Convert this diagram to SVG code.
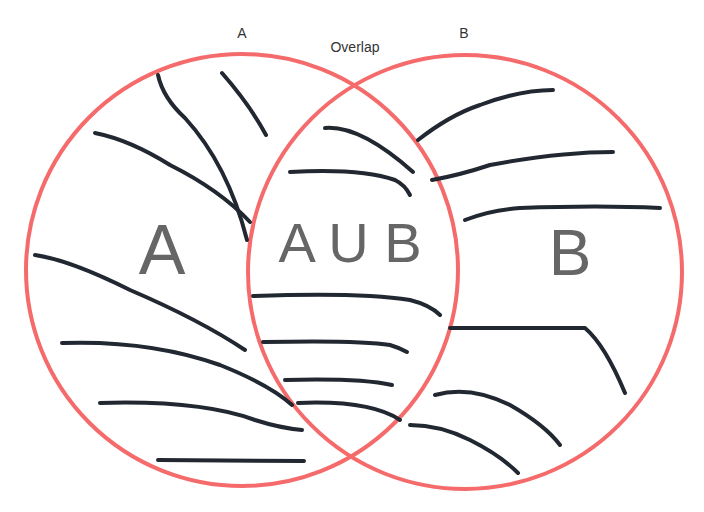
<svg xmlns="http://www.w3.org/2000/svg" width="704" height="512" viewBox="0 0 704 512">
<style>
.c{fill:none;stroke:#f56b6b;stroke-width:4}
.s{fill:none;stroke:#222831;stroke-width:4;stroke-linecap:round;stroke-linejoin:round}
.t{font-family:"Liberation Sans",Arial,sans-serif;fill:#333;font-size:14px;text-anchor:middle}
.b{font-family:"Liberation Sans",Arial,sans-serif;fill:#666;text-anchor:middle}
</style>
<rect width="704" height="512" fill="#fff"/>
<g id="circleA"><circle class="c" cx="242" cy="270" r="216"/></g>
<g id="circleB"><circle class="c" cx="465" cy="272" r="217"/></g>
<g id="labels">
<text class="t" x="242" y="38">A</text>
<text class="t" x="355" y="52">Overlap</text>
<text class="t" x="464" y="38">B</text>
<text class="b" x="162" y="274" font-size="70">A</text>
<text class="b" x="350" y="262" font-size="56" font-family="Open Sans, sans-serif" font-weight="300">A U B</text>
<text class="b" x="570" y="275" font-size="64">B</text>
</g>
<g id="connectors">
<path class="s" d="M158 75 Q163 98 185 118 Q228 165 247 240"/>
<path class="s" d="M222 73 Q250 105 266 135"/>
<path class="s" d="M95 133 Q130 140 170 165 Q220 190 250 222"/>
<path class="s" d="M35 255 Q70 260 130 290 Q200 320 245 350"/>
<path class="s" d="M62 343 Q150 340 220 365 Q270 385 292 405"/>
<path class="s" d="M100 403 Q200 400 255 420 Q280 428 302 430"/>
<path class="s" d="M158 460 L304 461"/>
<path class="s" d="M325 128 Q360 125 413 172"/>
<path class="s" d="M290 172 Q360 168 395 180 Q405 185 410 195"/>
<path class="s" d="M253 296 Q360 292 410 300 Q430 305 440 315"/>
<path class="s" d="M263 342 Q360 340 390 345 Q400 348 407 352"/>
<path class="s" d="M285 380 Q360 378 392 385"/>
<path class="s" d="M298 403 Q370 400 400 420"/>
<path class="s" d="M418 140 Q450 115 480 105 Q520 90 553 90"/>
<path class="s" d="M432 180 Q460 175 490 165 Q560 152 613 152"/>
<path class="s" d="M465 220 Q490 210 520 208 Q600 205 660 208"/>
<path class="s" d="M450 328 L585 328 Q605 345 625 393"/>
<path class="s" d="M435 395 Q470 385 510 405 Q545 425 560 445"/>
<path class="s" d="M410 425 Q440 425 470 440 Q500 455 518 473"/>
</g>
</svg>
